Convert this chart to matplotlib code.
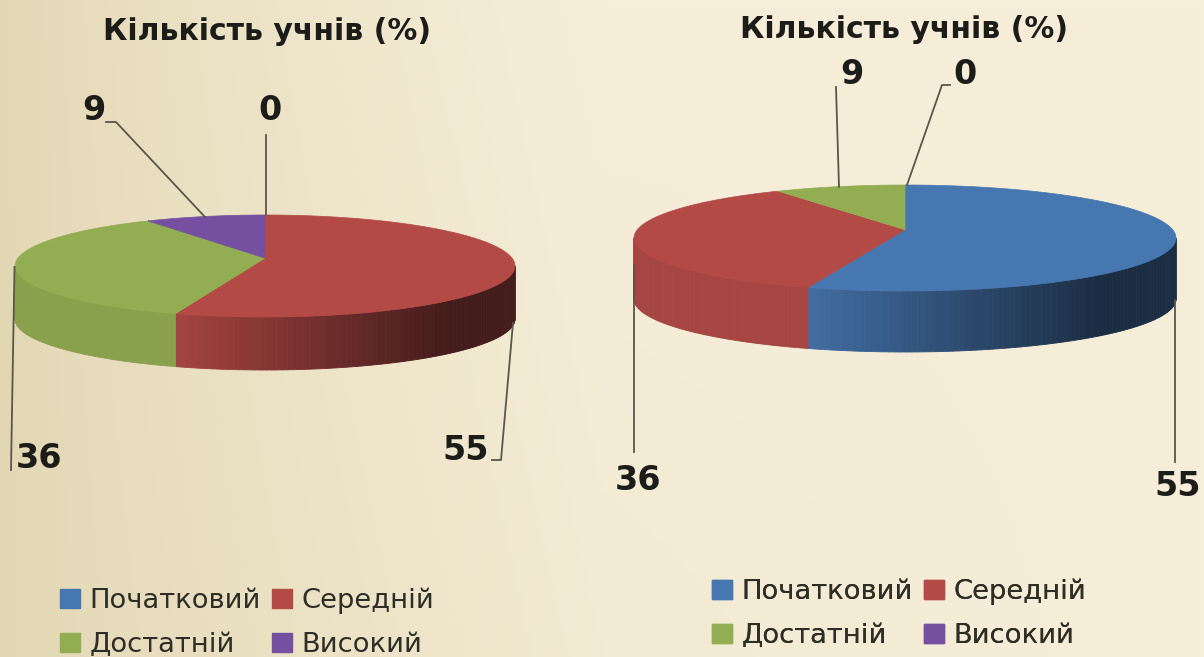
import numpy as np
import matplotlib
matplotlib.use("Agg")
import matplotlib.pyplot as plt
from matplotlib.patches import Patch

plt.rcParams['font.family'] = ['DejaVu Sans']

# data
categories = ["Початковий", "Середній", "Достатній", "Високий"]
colors = ["#4777b0", "#b34a46", "#93ad52", "#7650a0"]
values_left = [0, 55, 36, 9]
values_right = [55, 36, 9, 0]
chart_title = "Кількість учнів (%)"

W, H = 1204, 657
# how far the pie centre sits above the middle of the ellipse (perspective)
PERSP = 0.155


def shade(color, f):
    return tuple(np.array(matplotlib.colors.to_rgb(color)) * f)


def side_factor(s):
    # dark towards the right hand side of the disc
    if s < -0.36:
        return 0.93
    return max(0.92 - 0.5 * (s + 0.36), 0.38)


def warp(t, e):
    # angle on the flat pie -> angle on the drawn ellipse
    if t <= 0 or t >= 2 * np.pi:
        return t
    u = np.sin(t) * np.sqrt(1 - e * e) / (1 + e * np.cos(t))
    v = (np.cos(t) + e) / (1 + e * np.cos(t))
    return np.arctan2(u, v) % (2 * np.pi)


def draw_pie(ax, values, cx, cy, rx, ry, depth):
    total = sum(values)
    angles = [warp(a, PERSP) for a in np.cumsum([0] + values) / total * 2 * np.pi]
    # side first, only the front half shows
    for i, v in enumerate(values):
        if v == 0:
            continue
        a0 = max(angles[i], np.pi / 2)
        a1 = min(angles[i + 1], 3 * np.pi / 2)
        if a1 <= a0:
            continue
        steps = np.linspace(a0, a1, 90)
        for t0, t1 in zip(steps[:-1], steps[1:]):
            xs = cx + rx * np.sin([t0, t1, t1, t0])
            ys = cy - ry * np.cos([t0, t1, t1, t0]) + np.array([0, 0, depth, depth])
            c = shade(colors[i], side_factor(np.sin((t0 + t1) / 2)))
            ax.fill(xs, ys, color=c, lw=0.6, zorder=2)
    # top face
    apex_y = cy - PERSP * ry
    for i, v in enumerate(values):
        if v == 0:
            continue
        t = np.linspace(angles[i], angles[i + 1], 200)
        xs = np.r_[cx, cx + rx * np.sin(t)]
        ys = np.r_[apex_y, cy - ry * np.cos(t)]
        ax.fill(xs, ys, color=colors[i], lw=0.5, zorder=3)


def leader(ax, xs, ys):
    ax.plot(xs, ys, color="#5a5648", lw=1.3, zorder=4)


def num(ax, x, y, v):
    ax.text(x, y, str(v), fontsize=24, fontweight="bold", color="#1c1c18",
            ha="center", va="center", zorder=5)


fig = plt.figure(figsize=(W / 100, H / 100), dpi=100)
ax = fig.add_axes([0, 0, 1, 1])
ax.set_xlim(0, W)
ax.set_ylim(H, 0)
ax.axis("off")

# background wash, darker on the left
gx = np.linspace(0, 1, 300)
gy = np.linspace(0, 1, 100)
mx, my = np.meshgrid(gx, gy)
amt = np.clip(mx / 0.5, 0, 1) ** 0.7
amt = amt * (1 - 0.35 * my * (1 - mx))
c_dark = np.array(matplotlib.colors.to_rgb("#e2d7b3"))
c_light = np.array(matplotlib.colors.to_rgb("#f6eed9"))
bg = c_dark[None, None, :] + (c_light - c_dark)[None, None, :] * amt[:, :, None]
ax.imshow(bg, extent=[0, W, H, 0], aspect="auto", zorder=0)

# left chart
draw_pie(ax, values_left, 265, 266, 250, 51, 53)
ax.text(267, 31, chart_title, fontsize=21.5, fontweight="bold", color="#1c1c18", ha="center", va="center")
leader(ax, [106, 116, 205], [122, 122, 217])
leader(ax, [266, 266], [135, 215])
leader(ax, [14.5, 11], [267, 470])
leader(ax, [513, 501, 492], [323, 460, 460])
num(ax, 94, 111, values_left[3])
num(ax, 270, 111, values_left[0])
num(ax, 39, 458, values_left[2])
num(ax, 466, 450, values_left[1])

# right chart
draw_pie(ax, values_right, 905, 238, 271, 53, 61)
ax.text(904, 30, chart_title, fontsize=21.5, fontweight="bold", color="#1c1c18", ha="center", va="center")
leader(ax, [836, 839], [87, 187])
leader(ax, [950, 942, 907], [85, 85, 185])
leader(ax, [634, 634], [265, 452])
leader(ax, [1175, 1175], [300, 462])
num(ax, 852, 75, values_right[2])
num(ax, 965, 75, values_right[3])
num(ax, 638, 480, values_right[1])
num(ax, 1178, 487, values_right[0])

# legends, filled by column so it reads row by row
order = [0, 2, 1, 3]
handles = [Patch(color=colors[i], label=categories[i]) for i in order]
for lx, ly in [(60, 623), (712, 614)]:
    leg = ax.legend(handles=handles, ncol=2, loc="center left",
                    bbox_to_anchor=(lx, ly), bbox_transform=ax.transData,
                    frameon=False, prop={"family": "DejaVu Sans", "size": 19.7},
                    handlelength=0.72, handleheight=0.7,
                    handletextpad=0.35, columnspacing=0.42, labelspacing=0.66,
                    labelcolor="#2e2d26", borderpad=0, borderaxespad=0)
    ax.add_artist(leg)

fig.savefig("out.png", dpi=100)
